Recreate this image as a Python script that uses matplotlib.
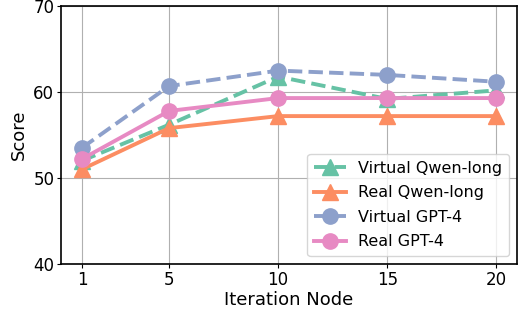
import matplotlib
matplotlib.use("Agg")
from matplotlib import pyplot as plt

# data
iterations = [1, 5, 10, 15, 20]
virtual_qwen = [52.0, 56.2, 61.8, 59.2, 60.2]
real_qwen = [51.0, 55.8, 57.2, 57.2, 57.2]
virtual_gpt4 = [53.5, 60.7, 62.5, 62.0, 61.2]
real_gpt4 = [52.2, 57.8, 59.3, 59.3, 59.3]

plt.rcParams['font.family'] = ['DejaVu Sans']
fig = plt.figure(figsize=(5.19, 3.11), dpi=100)
ax = fig.add_axes([0.118, 0.152, 0.878, 0.828])

ax.plot(iterations, virtual_qwen, '--', marker='^', color='#66c2a5',
        lw=2.8, ms=11, label='Virtual Qwen-long')
ax.plot(iterations, real_qwen, '-', marker='^', color='#fc8d62',
        lw=2.8, ms=11, label='Real Qwen-long')
ax.plot(iterations, virtual_gpt4, '--', marker='o', color='#8da0cb',
        lw=2.8, ms=11, label='Virtual GPT-4')
ax.plot(iterations, real_gpt4, '-', marker='o', color='#e78ac3',
        lw=2.8, ms=11, label='Real GPT-4')

ax.set_ylim(40, 70)
ax.set_yticks([40, 50, 60, 70])
ax.set_xticks(iterations)
ax.tick_params(labelsize=12, length=3, pad=2)
ax.set_xlabel('Iteration Node', fontsize=13, labelpad=2)
ax.set_ylabel('Score', fontsize=13)
ax.grid(True, color='#b0b0b0', lw=0.8)
for s in ax.spines.values():
    s.set_linewidth(1.2)
ax.legend(loc='lower right', fontsize=11.5, handlelength=2,
          labelspacing=0.6, borderaxespad=0.5)

fig.savefig('out.png', dpi=100)
